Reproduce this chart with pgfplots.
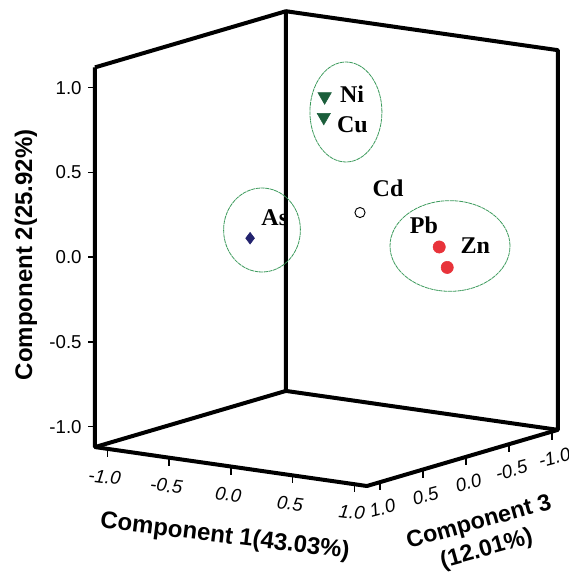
\documentclass[border=0pt]{standalone}
\usepackage{pgfplots}
\pgfplotsset{compat=1.18}
\usepackage{fontspec}
\setmainfont{Liberation Sans}
\newfontfamily\lblfont{Liberation Serif}
\definecolor{trigreen}{HTML}{1B5E3B}
\definecolor{navy}{HTML}{23236E}
\definecolor{ptred}{HTML}{E8333A}
\definecolor{ellgreen}{HTML}{3C9A5C}
\tikzset{
  tk1/.style={font=\itshape\fontsize{14}{16}\selectfont, xshift=-2pt, yshift=-21pt, rotate=-7},
  tk3/.style={font=\itshape\fontsize{14}{16}\selectfont, xshift=2pt, yshift=-19.5pt, rotate=15},
  tk2/.style={font=\fontsize{14}{16}\selectfont, anchor=east, xshift=-6.5pt},
  lb/.style={anchor=west, font=\lblfont\bfseries\fontsize{18}{20}\selectfont},
  tkl/.style={line width=1.1pt, black},
}
\begin{document}
\begin{tikzpicture}
\useasboundingbox (-247.4pt,-245.55pt) rectangle (178.6pt,185.7pt);
\begin{axis}[
  anchor=origin, at={(0pt,0pt)},
  x={(92.7pt,-13.275pt)}, y={(-64.5pt,-18.975pt)}, z={(0pt,127.125pt)},
  xmin=-1.1, xmax=1.1, ymin=-1.07, ymax=1.15, zmin=-1.12, zmax=1.12,
  hide axis,
  clip=false,
]
% box: the three back planes
\addplot3[black, line width=3pt, line join=round, mark=none] coordinates {
  (-1.1,1.15,1.12) (-1.1,1.15,-1.12) (1.1,1.15,-1.12) (1.1,-1.07,-1.12)
  (1.1,-1.07,1.12) (-1.1,-1.07,1.12) (-1.1,1.15,1.12)};
\addplot3[black, line width=3pt, line join=round, mark=none] coordinates {
  (-1.1,-1.07,1.12) (-1.1,-1.07,-1.12) (-1.1,1.15,-1.12)};
\addplot3[black, line width=3pt, line join=round, mark=none] coordinates {
  (-1.1,-1.07,-1.12) (1.1,-1.07,-1.12)};
% Component 1 ticks
\draw[tkl] (axis cs:-1,1.15,-1.12) -- ++(0pt,-6pt);
\draw[tkl] (axis cs:-0.5,1.15,-1.12) -- ++(0pt,-6pt);
\draw[tkl] (axis cs:0,1.15,-1.12) -- ++(0pt,-6pt);
\draw[tkl] (axis cs:0.5,1.15,-1.12) -- ++(0pt,-6pt);
\draw[tkl] (axis cs:1,1.15,-1.12) -- ++(0pt,-6pt);
\node[tk1] at (axis cs:-1,1.15,-1.12) {-1.0};
\node[tk1] at (axis cs:-0.5,1.15,-1.12) {-0.5};
\node[tk1] at (axis cs:0,1.15,-1.12) {0.0};
\node[tk1] at (axis cs:0.5,1.15,-1.12) {0.5};
\node[tk1] at (axis cs:1,1.15,-1.12) {1.0};
% Component 3 ticks
\draw[tkl] (axis cs:1.1,1,-1.12) -- ++(0pt,-6pt);
\draw[tkl] (axis cs:1.1,0.5,-1.12) -- ++(0pt,-6pt);
\draw[tkl] (axis cs:1.1,0,-1.12) -- ++(0pt,-6pt);
\draw[tkl] (axis cs:1.1,-0.5,-1.12) -- ++(0pt,-6pt);
\draw[tkl] (axis cs:1.1,-1,-1.12) -- ++(0pt,-6pt);
\node[tk3] at (axis cs:1.1,1,-1.12) {1.0};
\node[tk3] at (axis cs:1.1,0.5,-1.12) {0.5};
\node[tk3] at (axis cs:1.1,0,-1.12) {0.0};
\node[tk3] at (axis cs:1.1,-0.5,-1.12) {-0.5};
\node[tk3] at (axis cs:1.1,-1,-1.12) {-1.0};
% Component 2 ticks
\draw[tkl] (axis cs:-1.1,1.15,1) -- ++(-5.5pt,0pt);
\draw[tkl] (axis cs:-1.1,1.15,0.5) -- ++(-5.5pt,0pt);
\draw[tkl] (axis cs:-1.1,1.15,0) -- ++(-5.5pt,0pt);
\draw[tkl] (axis cs:-1.1,1.15,-0.5) -- ++(-5.5pt,0pt);
\draw[tkl] (axis cs:-1.1,1.15,-1) -- ++(-5.5pt,0pt);
\node[tk2] at (axis cs:-1.1,1.15,1) {1.0};
\node[tk2] at (axis cs:-1.1,1.15,0.5) {0.5};
\node[tk2] at (axis cs:-1.1,1.15,0) {0.0};
\node[tk2] at (axis cs:-1.1,1.15,-0.5) {-0.5};
\node[tk2] at (axis cs:-1.1,1.15,-1) {-1.0};
% data points
\addplot3[only marks, mark=triangle*, mark size=5.8pt, color=trigreen, mark options={rotate=180}]
  coordinates {(0.25,0.42,0.98) (0.25,0.43,0.86)};
\addplot3[only marks, mark=o, mark size=3.8pt, color=black, mark options={line width=0.7pt, fill=white}]
  coordinates {(0.55,0.44,0.33)};
\addplot3[only marks, mark=diamond*, mark size=4.4pt, color=navy]
  coordinates {(-0.2,0.64,0.13)};
\addplot3[only marks, mark=*, mark size=4.6pt, color=ptred, mark options={draw=ptred}]
  coordinates {(0.85,-0.05,0.085) (0.88,-0.10,-0.04)};
% labels of the points
\node[lb, xshift=8pt, yshift=2pt] at (axis cs:0.25,0.42,0.98) {Ni};
\node[lb, xshift=6.5pt, yshift=-6pt] at (axis cs:0.25,0.43,0.86) {Cu};
\node[lb, xshift=6pt, yshift=18.5pt] at (axis cs:0.55,0.44,0.33) {Cd};
\node[lb, xshift=5pt, yshift=15.5pt] at (axis cs:-0.2,0.64,0.13) {As};
\node[lb, xshift=-25.5pt, yshift=16.5pt] at (axis cs:0.85,-0.05,0.085) {Pb};
\node[lb, xshift=6.5pt, yshift=16.5pt] at (axis cs:0.88,-0.10,-0.04) {Zn};
% group ellipses
\draw[ellgreen, line width=0.6pt, dash pattern=on 3pt off 0.5pt] (axis cs:0.130,0,0.8136) ellipse [x radius=27pt, y radius=37.5pt];
\draw[ellgreen, line width=0.6pt, dash pattern=on 3pt off 0.5pt] (axis cs:-0.549,0,0.0465) ellipse [x radius=28.8pt, y radius=31.5pt];
\draw[ellgreen, line width=0.6pt, dash pattern=on 3pt off 0.5pt] (axis cs:0.972,0,0.111) ellipse [x radius=45pt, y radius=34pt];
% axis titles
\node[rotate=-7, font=\bfseries\fontsize{18}{20}\selectfont] at (axis cs:-0.849,0,-1.796) {Component 1(43.03\%)};
\node[rotate=15.5, align=center, font=\bfseries\fontsize{17.5}{21}\selectfont] at (axis cs:1.239,0,-1.575) {Component 3\\(12.01\%)};
\node[rotate=90, font=\bfseries\fontsize{18}{20}\selectfont] at (axis cs:-2.459,0,-0.300) {Component 2(25.92\%)};
\end{axis}
\end{tikzpicture}
\end{document}
